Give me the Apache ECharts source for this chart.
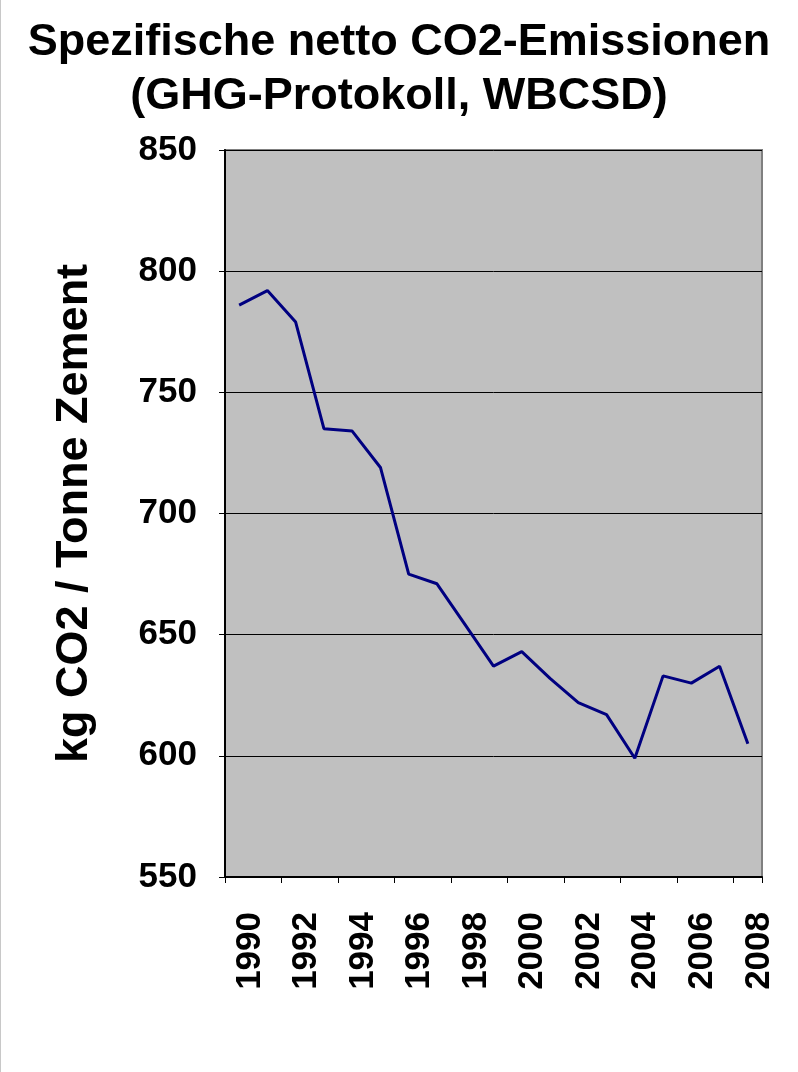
<!DOCTYPE html>
<html>
<head>
<meta charset="utf-8">
<script src="https://cdn.jsdelivr.net/npm/echarts@6/dist/echarts.min.js"></script>
<style>
html,body{margin:0;padding:0;background:#fff;}
#chart{width:798px;height:1072px;}
</style>
</head>
<body>
<div id="chart"></div>
<script>
const years = ['1990','1991','1992','1993','1994','1995','1996','1997','1998','1999','2000','2001','2002','2003','2004','2005','2006','2007','2008'];
const emissions = [786, 792, 779, 735, 734, 719, 675, 671, 654, 637, 643, 632, 622, 617, 599, 633, 630, 637, 605];
const yTicks = [550, 600, 650, 700, 750, 800, 850];
const titleText = 'Spezifische netto CO2-Emissionen\n(GHG-Protokoll, WBCSD)';
const yName = 'kg CO2 / Tonne Zement';

const FONT = '"Liberation Sans", Arial, sans-serif';
const chart = echarts.init(document.getElementById('chart'), null, {renderer: 'canvas'});
chart.setOption({
  animation: false,
  backgroundColor: '#ffffff',
  title: {
    text: titleText,
    left: 'center',
    top: 11,
    textStyle: {fontFamily: FONT, fontWeight: 'bold', fontSize: 45, lineHeight: 54, color: '#000'}
  },
  graphic: [{
    type: 'line', shape: {x1: 0.5, y1: 0, x2: 0.5, y2: 1072},
    style: {stroke: '#c8c8c8', lineWidth: 1}
  }],
  grid: {
    left: 225, right: 36, top: 150, bottom: 195,
    show: true, backgroundColor: '#C0C0C0', borderColor: '#808080', borderWidth: 2
  },
  xAxis: {
    type: 'category',
    data: years,
    boundaryGap: true,
    axisLine: {lineStyle: {color: '#000', width: 2}},
    axisTick: {show: true, length: 6, lineStyle: {color: '#000', width: 1}},
    axisLabel: {
      interval: 1, rotate: 90, margin: 35,
      verticalAlign: 'top', lineHeight: 22,
      fontFamily: FONT, fontWeight: 'bold', fontSize: 35, color: '#000'
    },
    splitLine: {show: false}
  },
  yAxis: {
    type: 'value',
    min: 550, max: 850, interval: 50,
    name: yName,
    nameLocation: 'middle',
    nameRotate: 90,
    nameGap: 128,
    nameTextStyle: {fontFamily: FONT, fontWeight: 'bold', fontSize: 45, color: '#000'},
    axisLine: {show: true, lineStyle: {color: '#000', width: 2}},
    axisTick: {show: true, length: 6, lineStyle: {color: '#000', width: 1}},
    axisLabel: {
      margin: 28, fontFamily: FONT, fontWeight: 'bold', fontSize: 35, color: '#000',
      formatter: function (v) { return yTicks.indexOf(v) >= 0 ? String(v) : ''; }
    },
    splitLine: {show: true, lineStyle: {color: '#000', width: 1}}
  },
  series: [{
    type: 'line',
    data: emissions,
    showSymbol: false,
    symbol: 'none',
    lineStyle: {color: '#000080', width: 3},
    itemStyle: {color: '#000080'}
  }]
});
</script>
</body>
</html>
